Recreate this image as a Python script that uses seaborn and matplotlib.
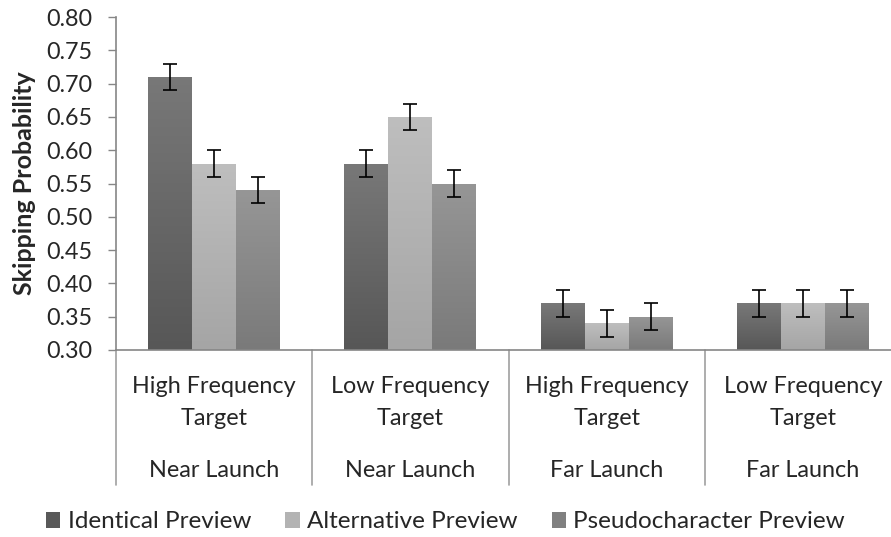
import numpy as np
import pandas as pd
import seaborn as sns
import matplotlib.pyplot as plt
from matplotlib.patches import Patch
from matplotlib.transforms import blended_transform_factory

# data
targets = ["High Frequency\nTarget", "Low Frequency\nTarget", "High Frequency\nTarget", "Low Frequency\nTarget"]
launches = ["Near Launch", "Near Launch", "Far Launch", "Far Launch"]
previews = ["Identical Preview", "Alternative Preview", "Pseudocharacter Preview"]
identical = [0.71, 0.58, 0.37, 0.37]
alternative = [0.58, 0.65, 0.34, 0.37]
pseudo = [0.54, 0.55, 0.35, 0.37]
errors = [0.02, 0.02, 0.02, 0.02]

conds = ["c%d" % i for i in range(4)]
df = pd.DataFrame({
    "cond": conds * 3,
    "preview": [p for p in previews for _ in range(4)],
    "prob": identical + alternative + pseudo,
    "err": errors * 3,
})

sns.set_style("white")
plt.rcParams["font.family"] = ["Lato", "DejaVu Sans"]

fig = plt.figure(figsize=(8.91, 5.37), dpi=100)
ax = fig.add_axes([116 / 891, 1 - 350 / 537, 785 / 891, 333 / 537])

legend_cols = ["#595959", "#b3b3b3", "#808080"]
grads = [("#787878", "#575757"), ("#bebebe", "#a5a5a5"), ("#969696", "#7a7a7a")]

sns.barplot(data=df, x="cond", y="prob", hue="preview", hue_order=previews,
            order=conds, palette=legend_cols, width=0.672, gap=0,
            errorbar=None, ax=ax, legend=False, saturation=1)

ax.set_ylim(0.30, 0.80)
ax.set_xlim(-0.5, 3.5)

# gradient fill + error bars
bars = [p for p in ax.patches]
for i, bar in enumerate(bars):
    h_idx = i // 4
    top, bot = grads[h_idx]
    x0 = bar.get_x()
    w = bar.get_width()
    h = bar.get_height()
    c_top = np.array(plt.matplotlib.colors.to_rgb(top))
    c_bot = np.array(plt.matplotlib.colors.to_rgb(bot))
    t = np.linspace(0, 1, 64)[:, None]
    img = (c_top * (1 - t) + c_bot * t)[:, None, :]
    im = ax.imshow(img, extent=[x0, x0 + w, 0.30, h], aspect="auto", zorder=2)
    im.set_clip_path(bar)
    bar.set_facecolor("none")
    bar.set_edgecolor("none")
    ax.errorbar(x0 + w / 2, h, yerr=df["err"].iloc[i], color="black",
                capsize=4.8, elinewidth=1.2, capthick=1.2, zorder=3, fmt="none")

ax.set_ylim(0.30, 0.80)
ax.set_xlim(-0.5, 3.5)
ax.set_yticks(np.arange(0.30, 0.801, 0.05))
ax.set_yticklabels(["%.2f" % v for v in np.arange(0.30, 0.801, 0.05)], fontsize=16.8)
ax.tick_params(axis="y", length=6, width=1, color="#868686", left=True, pad=11)
ax.set_xticks([])
ax.set_xlabel("")
ax.set_ylabel("Skipping Probability", fontsize=18, fontweight="bold", labelpad=7)

for s in ["top", "right"]:
    ax.spines[s].set_visible(False)
for s in ["left", "bottom"]:
    ax.spines[s].set_color("#868686")
    ax.spines[s].set_linewidth(1.2)

# two-level category axis
tr = blended_transform_factory(ax.transData, ax.transAxes)
for xs in [-0.5, 0.5, 1.5, 2.5]:
    ax.plot([xs, xs], [0, -0.405], transform=tr, color="#a0a0a0", lw=1.2, clip_on=False)
for i in range(4):
    line1, line2 = targets[i].split("\n")
    ax.text(i, -0.129, line1, transform=tr, ha="center", va="baseline", fontsize=16.8)
    ax.text(i, -0.225, line2, transform=tr, ha="center", va="baseline", fontsize=16.8)
    ax.text(i, -0.381, launches[i], transform=tr, ha="center", va="baseline", fontsize=16.8)

handles = [Patch(facecolor=c, edgecolor="none") for c in legend_cols]
fig.legend(handles, previews, loc="center", bbox_to_anchor=(0.5, 1 - 522 / 537),
           ncol=3, frameon=False, fontsize=17.5, handlelength=0.6, handleheight=0.6,
           handletextpad=0.3, columnspacing=1.4)

fig.savefig("out.png", dpi=100)
